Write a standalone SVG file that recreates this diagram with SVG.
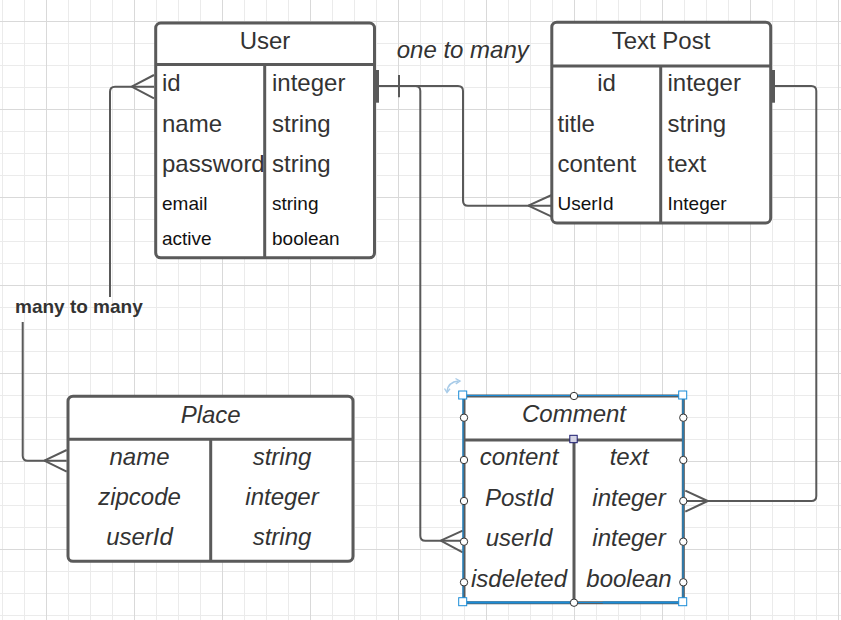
<svg xmlns="http://www.w3.org/2000/svg" width="841" height="620" viewBox="0 0 841 620">
<defs>
<pattern id="grid" patternUnits="userSpaceOnUse" x="0" y="0" width="88" height="88">
<path d="M2.5,0V88M24.5,0V88M68.5,0V88M0,43.5H88M0,65.5H88M0,87.5H88" stroke="#ebebeb" stroke-width="1" fill="none"/>
<path d="M46.5,0V88M0,21.5H88" stroke="#d9d9d9" stroke-width="1" fill="none"/>
</pattern>
<style>
.box{fill:#fff;stroke:#5a5a5a;stroke-width:3}
.sep{stroke:#5a5a5a;stroke-width:3;fill:none}
.t{font-family:"Liberation Sans",Arial,sans-serif;font-size:24px;fill:#333}
.s{font-family:"Liberation Sans",Arial,sans-serif;font-size:19px;fill:#111}
.i{font-style:italic}
.m{text-anchor:middle}
.c{fill:none;stroke:#595959;stroke-width:2}
.bar{fill:#595959}
.h{fill:#fff;stroke:#333;stroke-width:1}
.q{fill:#fff;stroke:#1a8cd8;stroke-width:1}
</style>
</defs>
<rect width="841" height="620" fill="#fff"/>
<rect width="841" height="620" fill="url(#grid)"/>

<g id="connectors">
<path class="c" d="M379,86H415.3Q420.3,86 420.3,91V535.7Q420.3,540.7 425.3,540.7H462.7"/>
<path class="c" d="M379,86H458Q463,86 463,91V200.7Q463,205.7 468,205.7H551.7"/>
<path class="c" d="M528.3,205.7L551.7,195M528.3,205.7L551.7,216.7"/>
<path class="c" d="M440.7,540.7L462.7,530.7M440.7,540.7L462.7,552.3"/>
<rect class="bar" x="375.7" y="70" width="3.3" height="32.7"/>
<path class="c" d="M399,75V97.3"/>
<path class="c" d="M775,86H811.3Q816.3,86 816.3,91V496Q816.3,501 811.3,501H685.3"/>
<path class="c" d="M707.7,501L685.3,490.7M707.7,501L685.3,511.7"/>
<rect class="bar" x="771.7" y="70" width="3.3" height="32.7"/>
<path class="c" d="M154,86.7H115Q110,86.7 110,91.7V297"/>
<path class="c" d="M22.7,322V455.7Q22.7,460.7 27.7,460.7H66.7"/>
<path class="c" d="M131.7,86.7L154,75M131.7,86.7L154,98.3"/>
<path class="c" d="M44.3,460.7L66.7,450M44.3,460.7L66.7,471.7"/>
<text x="15" y="313.3" font-family="Liberation Sans, Arial, sans-serif" font-size="19" font-weight="bold" fill="#333">many to many</text>
<text class="t i" x="396.7" y="58.3">one to many</text>
</g>

<g id="user">
<rect class="box" x="155.7" y="23" width="218.8" height="234.8" rx="5"/>
<path class="sep" d="M155.7,64.5H374.5M264.7,64.5V257.8"/>
<text class="t m" x="265" y="49">User</text>
<text class="t" x="162" y="91">id</text>
<text class="t" x="272" y="91">integer</text>
<text class="t" x="162" y="132">name</text>
<text class="t" x="272" y="132">string</text>
<text class="t" x="162" y="172">password</text>
<text class="t" x="272" y="172">string</text>
<text class="s" x="162" y="210">email</text>
<text class="s" x="272" y="210">string</text>
<text class="s" x="162" y="245">active</text>
<text class="s" x="272" y="245">boolean</text>
</g>

<g id="textpost">
<rect class="box" x="551.8" y="22.2" width="218.9" height="200.8" rx="5"/>
<path class="sep" d="M551.8,66H770.7M660.7,66V223"/>
<text class="t m" x="661" y="49">Text Post</text>
<text class="t m" x="606.5" y="91">id</text>
<text class="t" x="667.5" y="91">integer</text>
<text class="t" x="557.5" y="132">title</text>
<text class="t" x="667.5" y="132">string</text>
<text class="t" x="557.5" y="172">content</text>
<text class="t" x="667.5" y="172">text</text>
<text class="s" x="557.5" y="210">UserId</text>
<text class="s" x="667.5" y="210">Integer</text>
</g>

<g id="place">
<rect class="box" x="68" y="396.2" width="285" height="165.1" rx="5"/>
<path class="sep" d="M68,439.2H353M210.7,439.2V561.3"/>
<text class="t i m" x="210.7" y="423">Place</text>
<text class="t i m" x="139.5" y="465">name</text>
<text class="t i m" x="282" y="465">string</text>
<text class="t i m" x="139.5" y="505">zipcode</text>
<text class="t i m" x="282" y="505">integer</text>
<text class="t i m" x="139.5" y="545">userId</text>
<text class="t i m" x="282" y="545">string</text>
</g>

<g id="comment">
<rect class="box" x="464" y="396" width="219.3" height="206.7" rx="2"/>
<path class="sep" d="M464,440H683.3M574,440V602.7"/>
<text class="t i m" x="574" y="422">Comment</text>
<text class="t i m" x="519" y="465">content</text>
<text class="t i m" x="629" y="465">text</text>
<text class="t i m" x="519" y="506">PostId</text>
<text class="t i m" x="629" y="506">integer</text>
<text class="t i m" x="519" y="546">userId</text>
<text class="t i m" x="629" y="546">integer</text>
<text class="t i m" x="519" y="587">isdeleted</text>
<text class="t i m" x="629" y="587">boolean</text>
<rect x="463" y="395.5" width="220" height="207" fill="none" stroke="#1a8cd8" stroke-width="1.2"/>
<path d="M602.7,602.5H683" stroke="#1a8cd8" stroke-width="2" fill="none"/>
<path d="M464,602.5H574" stroke="#1a8cd8" stroke-width="2" fill="none"/>
<path d="M447,391.5Q448,382 458.5,381" fill="none" stroke="#a8cbe8" stroke-width="1.6"/>
<path d="M455.5,378.5L460,381L455.8,383.8M444.5,388.5L447,392.5L450,388.8" fill="none" stroke="#a8cbe8" stroke-width="1.4"/>
<circle class="h" cx="574" cy="396" r="3.7"/>
<circle class="h" cx="574" cy="602.7" r="3.7"/>
<circle class="h" cx="464" cy="417.7" r="3.7"/>
<circle class="h" cx="464" cy="460" r="3.7"/>
<circle class="h" cx="464" cy="501" r="3.7"/>
<circle class="h" cx="464" cy="541.7" r="3.7"/>
<circle class="h" cx="464" cy="582.3" r="3.7"/>
<circle class="h" cx="683.3" cy="417.7" r="3.7"/>
<circle class="h" cx="683.3" cy="460" r="3.7"/>
<circle class="h" cx="683.3" cy="501" r="3.7"/>
<circle class="h" cx="683.3" cy="541.7" r="3.7"/>
<circle class="h" cx="683.3" cy="582.3" r="3.7"/>
<rect class="q" x="458.7" y="391" width="8" height="8"/>
<rect class="q" x="678.7" y="391" width="8" height="8"/>
<rect class="q" x="458.7" y="597.7" width="8" height="8"/>
<rect class="q" x="678.7" y="597.7" width="8" height="8"/>
<rect x="569.8" y="435.3" width="7.4" height="7.4" fill="#d4d4e4" stroke="#1a1a6e" stroke-width="1"/>
</g>
</svg>
